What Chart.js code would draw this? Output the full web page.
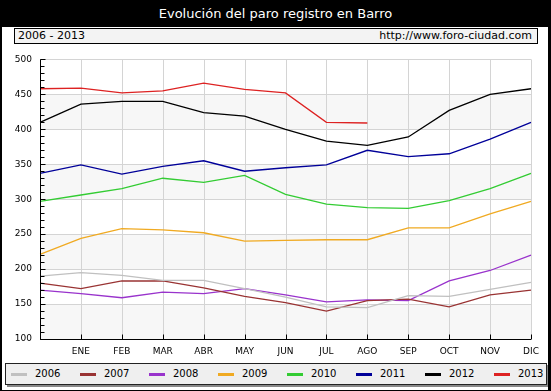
<!DOCTYPE html>
<html>
<head>
<meta charset="utf-8">
<script src="https://cdn.jsdelivr.net/npm/chart.js@4.4.1/dist/chart.umd.min.js"></script>
<style>
  body{margin:0;width:551px;height:391px;position:relative;overflow:hidden;background:#fff;font-family:"DejaVu Sans",Verdana,sans-serif;}
  #title{position:absolute;left:0;top:0;width:551px;height:27px;background:#000;color:#fff;font-size:13px;line-height:28px;text-align:center;}
  #sub{position:absolute;left:14px;top:28px;width:522px;height:14px;border:1px solid #000;background:#f3f3f3;font-size:11px;line-height:14px;color:#000;z-index:2;}
  #sub .l{position:absolute;left:3px;top:0;}
  #sub .r{position:absolute;right:5px;top:0;}
  #wrap{position:absolute;left:0;top:46px;width:551px;height:310px;}
  #legend{position:absolute;left:5px;top:363px;width:540px;height:20px;border:1px solid #222;background:#efefef;box-shadow:2px 2px 0 #888;}
  .item{position:absolute;top:0;height:20px;font-size:10px;line-height:20px;color:#000;}
  .item .sw{position:absolute;left:0;top:9px;width:16px;height:3px;}
  .item .tx{position:absolute;left:24px;top:0;}
  .edge{position:absolute;background:#000;}
</style>
</head>
<body>
<div id="title">Evolución del paro registro en Barro</div>
<div id="sub"><span class="l">2006 - 2013</span><span class="r">http://www.foro-ciudad.com</span></div>
<div id="wrap"><canvas id="chart" width="551" height="310"></canvas></div>
<div id="legend"></div>
<div class="edge" style="left:0;top:0;width:2px;height:391px"></div>
<div class="edge" style="right:0;top:0;width:3px;height:391px"></div>
<div class="edge" style="left:0;bottom:0;width:551px;height:1px"></div>
<script>
// ---------------- DATA ----------------
const months = ["", "ENE","FEB","MAR","ABR","MAY","JUN","JUL","AGO","SEP","OCT","NOV","DIC"];
const years  = ["2006","2007","2008","2009","2010","2011","2012","2013"];

const paro2006 = [190,195,191,184,184,172,160,146,145,162,161,171,181];
const paro2007 = [180,172,183,183,173,161,152,140,155,157,146,163,170];
const paro2008 = [170,165,159,167,165,172,163,153,156,155,183,198,220];
const paro2009 = [221,244,258,256,252,240,241,242,242,259,259,279,297];
const paro2010 = [297,306,315,330,324,334,307,293,288,287,298,315,337];
const paro2011 = [337,349,336,347,355,340,345,349,370,361,365,386,410];
const paro2012 = [410,436,440,440,424,419,400,383,377,389,427,450,458];
const paro2013 = [458,459,452,455,466,457,452,410,409];

const yTicks = [100,150,200,250,300,350,400,450,500];

const colors = ["#c0c0c0","#993333","#9933cc","#f0aa22","#33cc33","#000099","#000000","#dd2222"];
const series = [paro2006,paro2007,paro2008,paro2009,paro2010,paro2011,paro2012,paro2013];

// ---------------- LEGEND ----------------
const legend = document.getElementById("legend");
years.forEach((y,i) => {
  legend.innerHTML += `
    <div class="item" style="left:${5 + i*69}px">
      <div class="sw" style="background:${colors[i]}"></div>
      <span class="tx">${y}</span>
    </div>`;
});

// bands + inner ticks
const decor = {
  id:"decor",
  beforeDatasetsDraw(c){
    const ctx = c.ctx, a = c.chartArea, y = c.scales.y;
    ctx.save();
    ctx.fillStyle = "#f7f7f7";
    for(let v=100; v<500; v+=100){
      const t = y.getPixelForValue(v+50), b = y.getPixelForValue(v);
      ctx.fillRect(a.left, t, a.right-a.left, b-t);
    }
    // grid over bands
    ctx.strokeStyle = "#d4d4d4";
    ctx.lineWidth = 1;
    ctx.beginPath();
    yTicks.forEach(v => {
      const p = Math.round(y.getPixelForValue(v)) + 0.5;
      ctx.moveTo(a.left, p); ctx.lineTo(a.right, p);
    });
    months.forEach((m,i) => {
      const p = Math.round(c.scales.x.getPixelForValue(i)) + 0.5;
      ctx.moveTo(p, a.top); ctx.lineTo(p, a.bottom);
    });
    ctx.stroke();
    ctx.restore();
  },
  afterDraw(c){
    const ctx = c.ctx, a = c.chartArea, y = c.scales.y, x = c.scales.x;
    ctx.save();
    ctx.strokeStyle = "#000";
    ctx.lineWidth = 1;
    ctx.beginPath();
    const l = Math.round(a.left) + 0.5;
    for(let v=100; v<=500; v+=10){
      const p = Math.round(y.getPixelForValue(v)) + 0.5;
      ctx.moveTo(l, p); ctx.lineTo(l + (v%50===0 ? 5 : 4), p);
    }
    const b = Math.round(a.bottom) + 0.5;
    months.forEach((m,i) => {
      const p = Math.round(x.getPixelForValue(i)) + 0.5;
      ctx.moveTo(p, b); ctx.lineTo(p, b-5);
    });
    ctx.moveTo(l, a.top); ctx.lineTo(l, b);
    ctx.moveTo(l, b); ctx.lineTo(a.right, b);
    ctx.stroke();
    ctx.restore();
  }
};

new Chart(document.getElementById("chart"), {
  type:"line",
  data:{
    labels: months,
    datasets: series.map((d,i) => ({
      label: years[i],
      data: d,
      borderColor: colors[i],
      borderWidth: 1.3,
      pointRadius: 0,
      tension: 0,
      fill: false
    }))
  },
  options:{
    responsive:false,
    animation:false,
    layout:{ padding:{ top:5, right:20, left:0, bottom:0 } },
    plugins:{ legend:{display:false}, tooltip:{enabled:false} },
    scales:{
      x:{
        offset:false,
        grid:{ display:false, drawTicks:false },
        border:{ display:false },
        ticks:{ color:"#000", font:{family:"DejaVu Sans", size:9}, padding:7, maxRotation:0, autoSkip:false },
        afterFit: s => { s.height = 17; }
      },
      y:{
        min:100, max:500,
        afterBuildTicks: s => { s.ticks = yTicks.map(v => ({value:v})); },
        grid:{ display:false, drawTicks:false },
        border:{ display:false },
        ticks:{ color:"#000", font:{family:"DejaVu Sans", size:9}, padding:8 },
        afterFit: s => { s.width = 40; }
      }
    }
  },
  plugins:[decor]
});
</script>
</body>
</html>
